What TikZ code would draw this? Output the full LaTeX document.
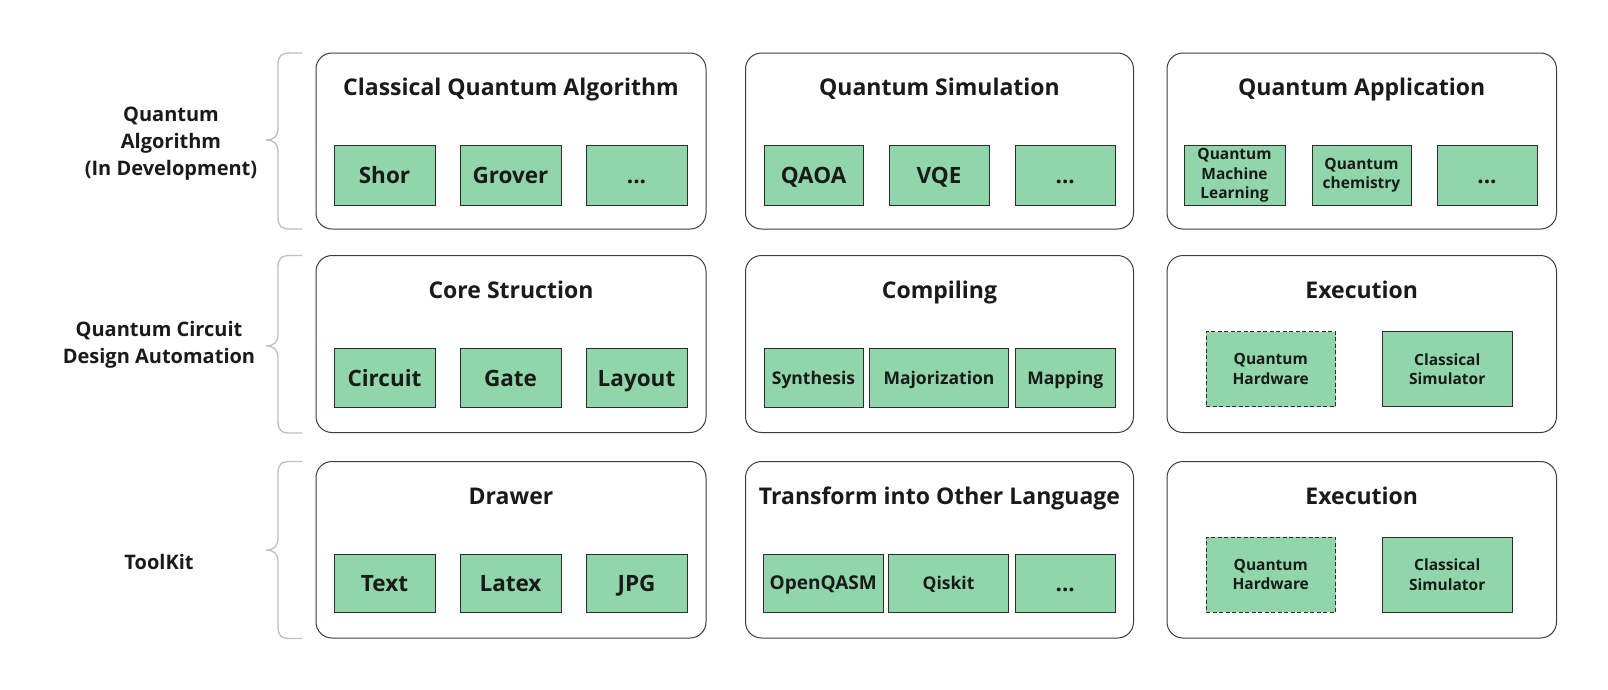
\documentclass[tikz,border=0pt]{standalone}
\usepackage{fontspec}
\setmainfont{Open Sans}
\definecolor{gfill}{RGB}{145,214,170}
\definecolor{gline}{RGB}{45,45,45}
\definecolor{bline}{RGB}{60,60,60}
\definecolor{brc}{RGB}{190,190,190}
\definecolor{txt}{RGB}{26,26,26}
\newcommand\mybrace[3]{%
  \draw[bracestyle] (302,#1) -- (291,#1) .. controls (281,#1) and (278,#1+3) .. (278,#1+12)
    -- (278,#2-12) .. controls (278,#2-4) and (274,#2) .. (266,#2)
    .. controls (274,#2) and (278,#2+4) .. (278,#2+12)
    -- (278,#3-12) .. controls (278,#3-3) and (281,#3) .. (291,#3) -- (302,#3);}
\begin{document}
\begin{tikzpicture}[x=1pt,y=-1pt,
  bigbox/.style={draw=bline,line width=1pt,rounded corners=16pt,fill=white,inner sep=0pt},
  gbox/.style={draw=gline,line width=0.9pt,fill=gfill,inner sep=0pt,align=center,text=txt,font=\bfseries},
  dbox/.style={gbox,dash pattern=on 4pt off 2.5pt},
  title/.style={anchor=base,text=txt,font=\fontsize{23}{27}\selectfont\bfseries},
  big/.style={font=\fontsize{22.5}{26}\selectfont\bfseries,text height=16pt,text depth=0pt},
  mid/.style={font=\fontsize{17.5}{20}\selectfont\bfseries,text height=12.5pt,text depth=0pt},
  sml/.style={font=\fontsize{15.5}{19.5}\selectfont\bfseries},
  lbl/.style={align=center,text=txt,font=\fontsize{20}{27}\selectfont\bfseries},
  bracestyle/.style={draw=brc,line width=1.3pt}]
\useasboundingbox (0,0) rectangle (1608,689);
% braces
\mybrace{53}{140}{229}
\mybrace{255.5}{346}{433}
\mybrace{461.5}{550}{638.5}
% left labels
\node[lbl] (l1) at (171,143.5) {Quantum\\Algorithm\\(In Development)};
\node[lbl] (l2) at (159,345) {Quantum Circuit\\Design Automation};
\node[lbl] (l3) at (159,562) {ToolKit};
% big boxes
\node[bigbox,minimum width=390pt,minimum height=176pt] (b11) at (511,141) {};
\node[bigbox,minimum width=388pt,minimum height=176pt] (b12) at (939.5,141) {};
\node[bigbox,minimum width=389.5pt,minimum height=176pt] (b13) at (1361.75,141) {};
\node[bigbox,minimum width=390pt,minimum height=177pt] (b21) at (511,344) {};
\node[bigbox,minimum width=388pt,minimum height=177pt] (b22) at (939.5,344) {};
\node[bigbox,minimum width=389.5pt,minimum height=177pt] (b23) at (1361.75,344) {};
\node[bigbox,minimum width=390pt,minimum height=176.5pt] (b31) at (511,549.75) {};
\node[bigbox,minimum width=388pt,minimum height=176.5pt] (b32) at (939.5,549.75) {};
\node[bigbox,minimum width=389.5pt,minimum height=176.5pt] (b33) at (1361.75,549.75) {};
% titles
\node[title] (t11) at (511,95) {Classical Quantum Algorithm};
\node[title] (t12) at (939.5,95) {Quantum Simulation};
\node[title] (t13) at (1361.75,95) {Quantum Application};
\node[title] (t21) at (511,298.5) {Core Struction};
\node[title] (t22) at (939.5,298.5) {Compiling};
\node[title] (t23) at (1361.75,298.5) {Execution};
\node[title] (t31) at (511,504) {Drawer};
\node[title] (t32) at (939.5,504) {Transform into Other Language};
\node[title] (t33) at (1361.75,504) {Execution};
% row 1 items
\node[gbox,big,minimum width=101pt,minimum height=60pt] (shor) at (384.5,175) {Shor};
\node[gbox,big,minimum width=101pt,minimum height=60pt] (grover) at (510.5,175) {Grover};
\node[gbox,big,minimum width=101pt,minimum height=60pt] (dots1) at (636.5,175) {...};
\node[gbox,big,minimum width=99pt,minimum height=60pt] (qaoa) at (813.5,175) {QAOA};
\node[gbox,big,minimum width=100pt,minimum height=60pt] (vqe) at (939,175) {VQE};
\node[gbox,big,minimum width=100pt,minimum height=60pt] (dots2) at (1065.25,175) {...};
\node[gbox,sml,minimum width=101pt,minimum height=60pt] (qml) at (1234.5,175.5) {Quantum\\Machine\\Learning};
\node[gbox,sml,minimum width=99pt,minimum height=60pt] (qchem) at (1361.5,175) {Quantum\\chemistry};
\node[gbox,big,minimum width=100pt,minimum height=60pt] (dots3) at (1487,175) {...};
% row 2 items
\node[gbox,big,minimum width=101pt,minimum height=59pt] (circuit) at (384.5,378) {Circuit};
\node[gbox,big,minimum width=101pt,minimum height=59pt] (gate) at (510.5,378) {Gate};
\node[gbox,big,minimum width=101pt,minimum height=59pt] (layout) at (636.5,378) {Layout};
\node[gbox,mid,minimum width=99pt,minimum height=59pt] (synth) at (813.5,378) {Synthesis};
\node[gbox,mid,minimum width=139pt,minimum height=59pt] (major) at (939,378) {Majorization};
\node[gbox,mid,minimum width=100pt,minimum height=59pt] (mapping) at (1065.25,378) {Mapping};
\node[dbox,sml,minimum width=129.5pt,minimum height=75pt] (qhw1) at (1270.75,369) {Quantum\\Hardware};
\node[gbox,sml,minimum width=129.5pt,minimum height=75pt] (csim1) at (1447.25,369) {Classical\\Simulator};
% row 3 items
\node[gbox,big,minimum width=101pt,minimum height=58pt] (text) at (384.5,583) {Text};
\node[gbox,big,minimum width=101pt,minimum height=58pt] (latex) at (510.5,583) {Latex};
\node[gbox,big,minimum width=101pt,minimum height=58pt] (jpg) at (636.5,583) {JPG};
\node[gbox,mid,font=\fontsize{19}{22}\selectfont\bfseries,text height=13.6pt,minimum width=119.5pt,minimum height=58pt] (oqasm) at (823.25,583) {OpenQASM};
\node[gbox,mid,minimum width=120pt,minimum height=58pt] (qiskit) at (948.5,583) {Qiskit};
\node[gbox,big,minimum width=100pt,minimum height=58pt] (dots4) at (1065.25,583) {...};
\node[dbox,sml,minimum width=129.5pt,minimum height=75pt] (qhw2) at (1270.75,574.5) {Quantum\\Hardware};
\node[gbox,sml,minimum width=129.5pt,minimum height=75pt] (csim2) at (1447.25,574.5) {Classical\\Simulator};
\end{tikzpicture}
\end{document}
